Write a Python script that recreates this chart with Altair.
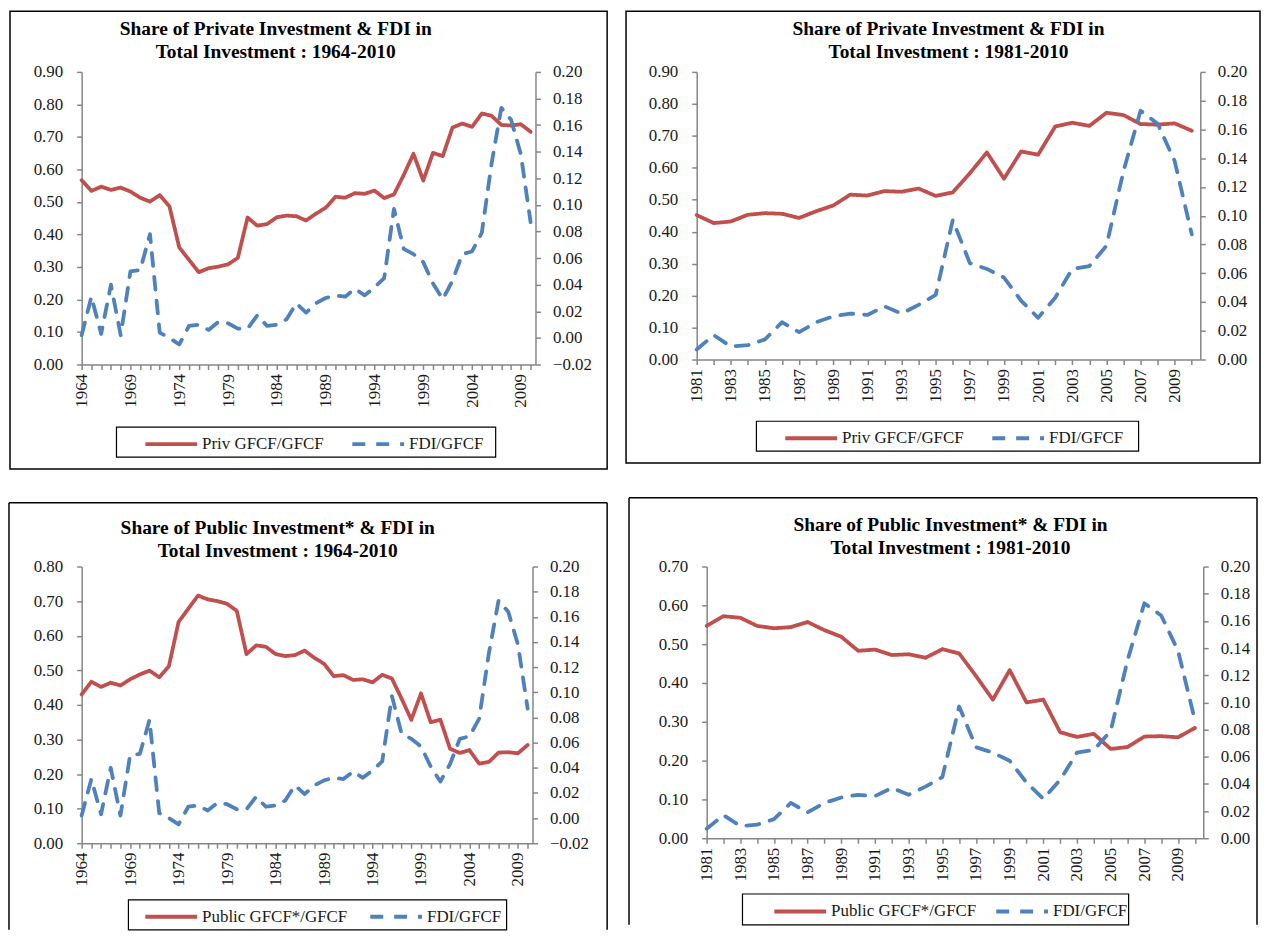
import altair as alt
import pandas as pd

# ---------------- data ----------------
years_full = list(range(1964, 2011))

priv_share = [0.567, 0.534, 0.547, 0.537, 0.544, 0.532, 0.513, 0.501, 0.521, 0.486,
              0.360, 0.322, 0.284, 0.296, 0.301, 0.308, 0.328,
              0.452, 0.427, 0.432, 0.453, 0.458, 0.456, 0.443, 0.464, 0.482, 0.516,
              0.513, 0.527, 0.525, 0.535, 0.512,
              0.523, 0.583, 0.648, 0.566, 0.651, 0.641, 0.729, 0.741, 0.731, 0.772,
              0.765, 0.737, 0.735, 0.739, 0.716]

public_share = [0.430, 0.467, 0.452, 0.464, 0.456, 0.474, 0.488, 0.499, 0.480, 0.512,
                0.640, 0.678, 0.716, 0.705, 0.700, 0.692, 0.672,
                0.547, 0.572, 0.568, 0.547, 0.541, 0.544, 0.557, 0.536, 0.519, 0.483,
                0.486, 0.472, 0.474, 0.465, 0.487,
                0.476, 0.418, 0.357, 0.433, 0.350, 0.357, 0.273, 0.261, 0.269, 0.230,
                0.235, 0.262, 0.263, 0.260, 0.284]

fdi_share = [0.002, 0.031, 0.003, 0.040, 0.002, 0.050, 0.051, 0.078, 0.004, 0.000,
             -0.005, 0.009, 0.010, 0.006, 0.012, 0.011, 0.007,
             0.007, 0.017, 0.009, 0.010, 0.014, 0.026, 0.019, 0.026, 0.030, 0.032,
             0.031, 0.037, 0.032, 0.038, 0.045,
             0.097, 0.067, 0.063, 0.057, 0.041, 0.029, 0.043, 0.063, 0.065, 0.079,
             0.131, 0.173, 0.164, 0.138, 0.087]

priv_label = "Priv GFCF/GFCF"
public_label = "Public GFCF*/GFCF"
fdi_label = "FDI/GFCF"

title_priv_64 = ["Share of Private Investment & FDI in", "Total Investment : 1964-2010"]
title_priv_81 = ["Share of Private Investment & FDI in", "Total Investment : 1981-2010"]
title_pub_64 = ["Share of Public Investment* & FDI in", "Total Investment : 1964-2010"]
title_pub_81 = ["Share of Public Investment* & FDI in", "Total Investment : 1981-2010"]

left_ticks_09 = [round(i * 0.1, 2) for i in range(10)]
left_ticks_08 = [round(i * 0.1, 2) for i in range(9)]
left_ticks_07 = [round(i * 0.1, 2) for i in range(8)]
right_ticks_neg = [round(-0.02 + i * 0.02, 2) for i in range(12)]
right_ticks_pos = [round(i * 0.02, 2) for i in range(11)]

# ---------------- style ----------------
RED = "#C0504D"
BLUE = "#4F81BD"
FONT = "Liberation Serif"
AX = "#868686"
TXT = "#1a1a1a"
SYM = 52  # legend line sample length in px


def one():
    return alt.Chart(pd.DataFrame({"k": [0]}))


def panel(start, main_vals, main_label, left_ticks, right_ticks, width, height,
          step, title_lines, title_xy, box, legend_box, legend_x, col_pad=20,
          open_bottom=False, top_pad=None):
    i0 = years_full.index(start)
    yrs = years_full[i0:]
    df_main = pd.DataFrame({"year": yrs, "value": main_vals[i0:], "series": main_label})
    df_fdi = pd.DataFrame({"year": yrs, "value": fdi_share[i0:], "series": fdi_label})

    lx0, ly0, lx1, ly1 = legend_box
    leg_center = (ly0 + ly1) / 2
    leg = alt.Legend(orient="none", legendX=legend_x, legendY=leg_center - SYM / 2,
                     direction="horizontal", title=None, labelFont=FONT, labelFontSize=17,
                     labelColor=TXT, symbolType="stroke", symbolSize=SYM * SYM,
                     symbolStrokeWidth=4, columnPadding=col_pad, labelOffset=3, padding=0)
    color = alt.Color("series:N", scale=alt.Scale(domain=[main_label, fdi_label],
                                                  range=[RED, BLUE]), legend=leg)
    dash = alt.StrokeDash("series:N", scale=alt.Scale(domain=[main_label, fdi_label],
                                                      range=[[1, 0], [13, 11]]), legend=leg)

    xscale = alt.Scale(domain=[start, 2010.5], nice=False, zero=False)
    xaxis = alt.Axis(values=yrs, labelExpr=f"(datum.value - {start}) % {step} == 0 ? format(datum.value, 'd') : ''",
                     labelAngle=270, labelPadding=4, tickSize=5, title=None,
                     labelOverlap=False, labelFlush=False, grid=False)

    main = alt.Chart(df_main).mark_line(strokeWidth=3.8, strokeCap="round", strokeJoin="round").encode(
        x=alt.X("year:Q", scale=xscale, axis=xaxis),
        y=alt.Y("value:Q", scale=alt.Scale(domain=[left_ticks[0], left_ticks[-1]], nice=False, zero=False),
                axis=alt.Axis(values=left_ticks, format=".2f", orient="left", title=None,
                              tickSize=5, labelPadding=14, grid=False)),
        color=color, strokeDash=dash,
    )
    fdi = alt.Chart(df_fdi).mark_line(strokeWidth=3.8, strokeCap="round", strokeJoin="round").encode(
        x=alt.X("year:Q", scale=xscale, axis=xaxis),
        y=alt.Y("value:Q", scale=alt.Scale(domain=[right_ticks[0], right_ticks[-1]], nice=False, zero=False),
                axis=alt.Axis(values=right_ticks, format=".2f", orient="right", title=None,
                              tickSize=5, labelPadding=12, grid=False)),
        color=color, strokeDash=dash,
    )

    t1 = alt.Chart(pd.DataFrame({"t": [title_lines[0]]})).mark_text(
        font=FONT, fontWeight="bold", fontSize=19.5, align="center", baseline="middle", color="black"
    ).encode(text="t:N", x=alt.value(title_xy[0]), y=alt.value(title_xy[1]))
    t2 = alt.Chart(pd.DataFrame({"t": [title_lines[1]]})).mark_text(
        font=FONT, fontWeight="bold", fontSize=19.5, align="center", baseline="middle", color="black"
    ).encode(text="t:N", x=alt.value(title_xy[0]), y=alt.value(title_xy[1] + 23))

    bx0, by0, bx1, by1 = box
    deco = []
    if open_bottom:
        for (a, b, c, d) in [(bx0, bx0, by0, by1), (bx1, bx1, by0, by1), (bx0, bx1, by0, by0)]:
            deco.append(one().mark_rule(color="black", strokeWidth=1.5).encode(
                x=alt.value(a), x2=alt.value(b), y=alt.value(c), y2=alt.value(d)))
    else:
        deco.append(one().mark_rect(fillOpacity=0, stroke="black", strokeWidth=1.5).encode(
            x=alt.value(bx0), x2=alt.value(bx1), y=alt.value(by0), y2=alt.value(by1)))
    if top_pad is not None:
        deco.append(one().mark_rule(opacity=0).encode(
            x=alt.value(bx0), x2=alt.value(bx0 + 5), y=alt.value(top_pad)))
    deco.append(one().mark_rect(fillOpacity=0, stroke="black", strokeWidth=1.2).encode(
        x=alt.value(lx0), x2=alt.value(lx1), y=alt.value(ly0), y2=alt.value(ly1)))

    return alt.layer(*deco, t1, t2, main, fdi).resolve_scale(y="independent").properties(
        width=width, height=height)


p1 = panel(1964, priv_share, priv_label, left_ticks_09, right_ticks_neg, 456, 294, 5,
           title_priv_64, (195, -43), (-72, -61, 528, 399), (35, 357, 416, 387), 62)
p2 = panel(1981, priv_share, priv_label, left_ticks_09, right_ticks_pos, 506, 289, 2,
           title_priv_81, (253, -43), (-71, -61, 566, 393), (60, 351, 444, 381), 87)
p3 = panel(1964, public_share, public_label, left_ticks_08, right_ticks_neg, 453, 278, 5,
           title_pub_64, (197, -39), (-73, -64, 528, 365), (47, 335, 427, 365), 62,
           col_pad=15, open_bottom=True, top_pad=-66)
p4 = panel(1981, public_share, public_label, left_ticks_07, right_ticks_pos, 499, 273, 2,
           title_pub_81, (245, -42), (-78, -69, 553, 360), (36, 329, 424, 360), 66,
           col_pad=12, open_bottom=True)

ind = dict(color="independent", strokeDash="independent")
row1 = alt.hconcat(p1, p2, spacing=17).resolve_scale(**ind).resolve_legend(**ind)
# wrap each bottom panel so that each keeps its own vertical offset inside the row
w3 = alt.vconcat(p3).resolve_scale(**ind).resolve_legend(**ind)
w4 = alt.vconcat(p4).resolve_scale(**ind).resolve_legend(**ind)
row2 = alt.hconcat(w3, w4, spacing=20).resolve_scale(**ind).resolve_legend(**ind)

chart = alt.vconcat(row1, row2, spacing=27).resolve_scale(**ind).resolve_legend(**ind).properties(
    padding=0, background="white").configure_view(stroke=None).configure_axis(
    domainColor=AX, tickColor=AX, domainWidth=1.5, tickWidth=1.5,
    labelFont=FONT, labelFontSize=17, labelColor=TXT,
)

chart.save("out.html", embed_options={"renderer": "svg", "actions": False})
